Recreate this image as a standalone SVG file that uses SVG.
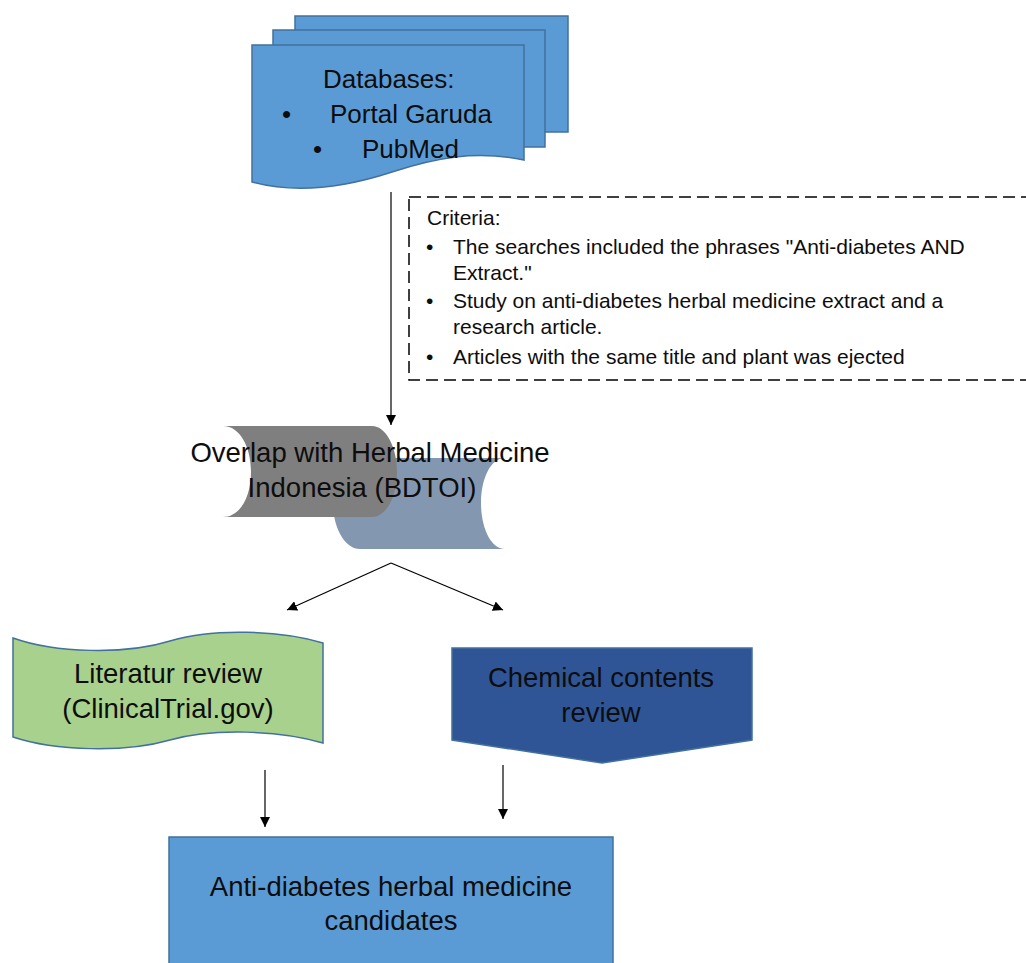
<svg xmlns="http://www.w3.org/2000/svg" width="1026" height="963" viewBox="0 0 1026 963">
<style>
.sh{stroke:#41719C;stroke-width:1.5}
.t{font-family:"Liberation Sans",Arial,sans-serif;fill:#0D0D0D}
.m{font-size:27.5px;text-anchor:middle}
.c{font-size:21px}
.ln{stroke:#000;stroke-width:1.2;fill:none}
</style>
<defs>
<marker id="ah" viewBox="0 0 10 10" refX="10" refY="5" markerWidth="10" markerHeight="10" markerUnits="userSpaceOnUse" orient="auto">
<path d="M0,0 L10,5 L0,10 Z" fill="#000"/>
</marker>
</defs>
<rect width="1026" height="963" fill="#fff"/>

<g id="databases">
<rect class="sh" x="295" y="16" width="273" height="116" fill="#5B9BD5"/>
<rect class="sh" x="273" y="30" width="272" height="117" fill="#5B9BD5"/>
<path class="sh" fill="#5B9BD5" d="M252,45 L524,45 L524,160 C475,150 435,158 392,172 C340,189 292,193 252,182 Z"/>
<text class="t" x="323" y="88" font-size="26">Databases:</text>
<text class="t" x="282" y="123" font-size="26">•</text>
<text class="t" x="330" y="123" font-size="26">Portal Garuda</text>
<text class="t" x="313" y="158" font-size="26">•</text>
<text class="t" x="362" y="158" font-size="26">PubMed</text>
</g>

<g id="criteria">
<rect x="409" y="197" width="625" height="183" fill="none" stroke="#000" stroke-width="1.5" stroke-dasharray="12,6"/>
<text class="t c" x="427" y="225">Criteria:</text>
<text class="t c" x="426" y="254">•</text>
<text class="t c" x="453" y="254">The searches included the phrases "Anti-diabetes AND</text>
<text class="t c" x="453" y="280">Extract."</text>
<text class="t c" x="426" y="308">•</text>
<text class="t c" x="453" y="308">Study on anti-diabetes herbal medicine extract and a</text>
<text class="t c" x="453" y="334">research article.</text>
<text class="t c" x="426" y="364">•</text>
<text class="t c" x="453" y="364">Articles with the same title and plant was ejected</text>
</g>

<g id="overlap">
<path fill="#8497B0" d="M360,458 L505,458 C490,458 481,480 481,503 C481,526 490,549 505,549 L360,549 C345,549 333,528 333,503 C333,478 345,458 360,458 Z"/>
<path fill="#7F7F7F" d="M223,426 L372,426 C386,426 397,447 397,472 C397,497 386,517 372,517 L223,517 C240,517 251,497 251,472 C251,447 240,426 223,426 Z"/>
<text class="t m" x="370" y="462">Overlap with Herbal Medicine</text>
<text class="t m" x="362" y="497">Indonesia (BDTOI)</text>
</g>

<g id="literature">
<path class="sh" fill="#A9D18E" d="M13,638 C55,653 125,655 170,641 C212,628 280,630 323,643 L323,743 C280,730 212,728 170,740 C125,753 55,751 13,737 Z"/>
<text class="t m" x="168" y="683">Literatur review</text>
<text class="t m" x="168" y="718">(ClinicalTrial.gov)</text>
</g>

<g id="chemical">
<path class="sh" fill="#2F5597" d="M452,648 L752,648 L752,740 L602,763 L452,740 Z"/>
<text class="t m" x="601" y="687">Chemical contents</text>
<text class="t m" x="601" y="722">review</text>
</g>

<g id="candidates">
<rect class="sh" x="169" y="837" width="444" height="140" fill="#5B9BD5"/>
<text class="t m" x="391" y="896">Anti-diabetes herbal medicine</text>
<text class="t m" x="391" y="930">candidates</text>
</g>

<g id="connectors">
<line class="ln" x1="391" y1="192" x2="391" y2="425" marker-end="url(#ah)"/>
<line class="ln" x1="391" y1="563" x2="287" y2="610" marker-end="url(#ah)"/>
<line class="ln" x1="391" y1="563" x2="503" y2="610" marker-end="url(#ah)"/>
<line class="ln" x1="265" y1="770" x2="265" y2="827" marker-end="url(#ah)"/>
<line class="ln" x1="503" y1="765" x2="503" y2="819" marker-end="url(#ah)"/>
</g>
</svg>
